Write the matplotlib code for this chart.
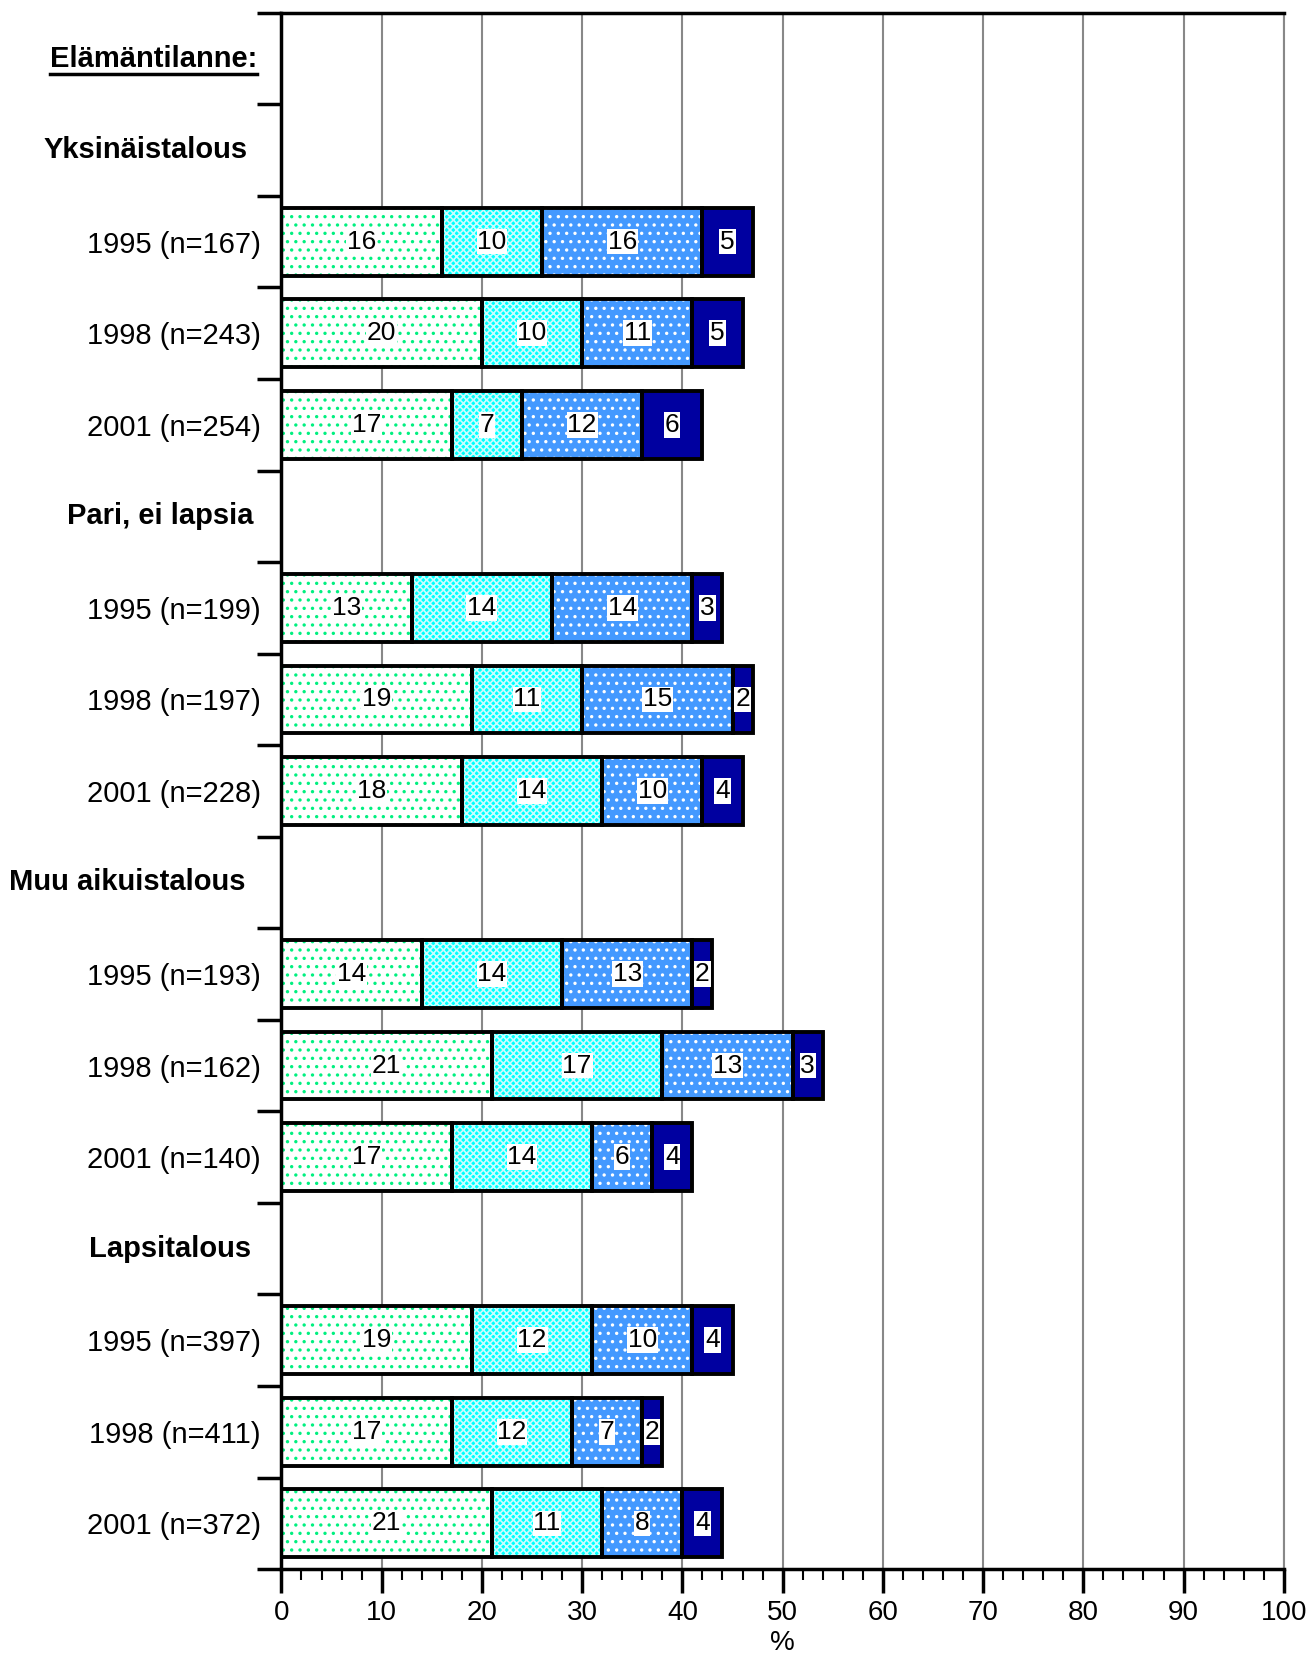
import matplotlib
matplotlib.use('Agg')
import matplotlib.pyplot as plt
from matplotlib.lines import Line2D
from matplotlib.ticker import MultipleLocator
import numpy as np

plt.rcParams['font.family'] = ['Liberation Sans', 'DejaVu Sans']
plt.rcParams['hatch.linewidth'] = 1.2

# 数据
header = 'Elämäntilanne:'
groups = ['Yksinäistalous', 'Pari, ei lapsia', 'Muu aikuistalous', 'Lapsitalous']
years = ['1995', '1998', '2001']
n_values = [
    [167, 243, 254],
    [199, 197, 228],
    [193, 162, 140],
    [397, 411, 372],
]
seg1 = [16, 20, 17, 13, 19, 18, 14, 21, 17, 19, 17, 21]
seg2 = [10, 10, 7, 14, 11, 14, 14, 17, 14, 12, 12, 11]
seg3 = [16, 11, 12, 14, 15, 10, 13, 13, 6, 10, 7, 8]
seg4 = [5, 5, 6, 3, 2, 4, 2, 3, 4, 4, 2, 4]

# 样式: (底色, 花纹颜色, 花纹)
styles = [
    ('white', '#00F080', '..'),
    ('#00FFFF', '#C8FFFF', 'xxxxx'),
    ('#4499FF', 'white', '..'),
    ('#0000A0', '#0000A0', None),
]

# 行位置
rows = []      # (label, bold, row index)
bar_rows = []
r = 0
rows.append((header, True, r)); r += 1
for g, ns in zip(groups, n_values):
    rows.append((g, True, r)); r += 1
    for y, n in zip(years, ns):
        rows.append((f'{y} (n={n})', False, r))
        bar_rows.append(r)
        r += 1
nrows = r

fig = plt.figure(figsize=(13.06, 16.59), dpi=100)
ax = fig.add_axes([0.2155, 0.0542, 0.7675, 0.9381])

ypos = np.array(bar_rows) + 0.5
h = 0.74
left = np.zeros(len(seg1))
for vals, (fc, hc, hatch) in zip([seg1, seg2, seg3, seg4], styles):
    vals = np.array(vals, dtype=float)
    # 填充与花纹
    ax.barh(ypos, vals, left=left, height=h, color=fc, edgecolor=hc,
            hatch=hatch, linewidth=0, zorder=2)
    # 黑色边框
    ax.barh(ypos, vals, left=left, height=h, fill=False, edgecolor='black',
            linewidth=2.8, zorder=3)
    for yy, l, v in zip(ypos, left, vals):
        ax.text(l + v / 2, yy, f'{int(v)}', ha='center', va='center',
                fontsize=19, color='black', zorder=4,
                bbox=dict(facecolor='white', edgecolor='none', pad=0.5))
    left += vals

ax.set_xlim(0, 100)
ax.set_ylim(nrows, 0)
ax.xaxis.set_major_locator(MultipleLocator(10))
ax.xaxis.set_minor_locator(MultipleLocator(2))
ax.tick_params(axis='x', which='major', length=17, width=2.5, labelsize=20, pad=5)
ax.tick_params(axis='x', which='minor', length=8, width=1.5)
ax.set_xlabel('%', fontsize=20, labelpad=3)

ax.set_yticks(np.arange(nrows + 1))
ax.set_yticklabels([])
ax.tick_params(axis='y', which='major', length=17, width=2.5)
ax.set_yticks([rw + 0.5 for _, b, rw in rows if not b], minor=True)
ax.set_yticklabels([lab for lab, b, _ in rows if not b], minor=True, fontsize=21)
ax.tick_params(axis='y', which='minor', length=0, pad=15)

# 分组标题
head_right = [243, 234, 240, 232, 237]
x0, x1 = 281.5, 1283.7
texts = []
for (lab, b, rw), xr in zip([t for t in rows if t[1]], head_right):
    xa = (xr * 1306 / 1234 - x0) / (x1 - x0)
    t = ax.text(xa, rw + 0.5, lab, transform=ax.get_yaxis_transform(),
                ha='right', va='center', fontsize=21, fontweight='bold')
    texts.append(t)

ax.grid(axis='x', which='major', color='#888888', linewidth=1.5, zorder=0)
ax.set_axisbelow(True)
for s in ['left', 'bottom', 'top']:
    ax.spines[s].set_linewidth(2.5)
ax.spines['right'].set_color('#888888')
ax.spines['right'].set_linewidth(1.5)

# 标题下划线
fig.canvas.draw()
bb = texts[0].get_window_extent()
fig.add_artist(Line2D([bb.x0 / fig.bbox.width, bb.x1 / fig.bbox.width],
                      [(bb.y0 - 1) / fig.bbox.height] * 2,
                      transform=fig.transFigure, color='black', linewidth=2.5))

plt.savefig('out.png', dpi=100)
